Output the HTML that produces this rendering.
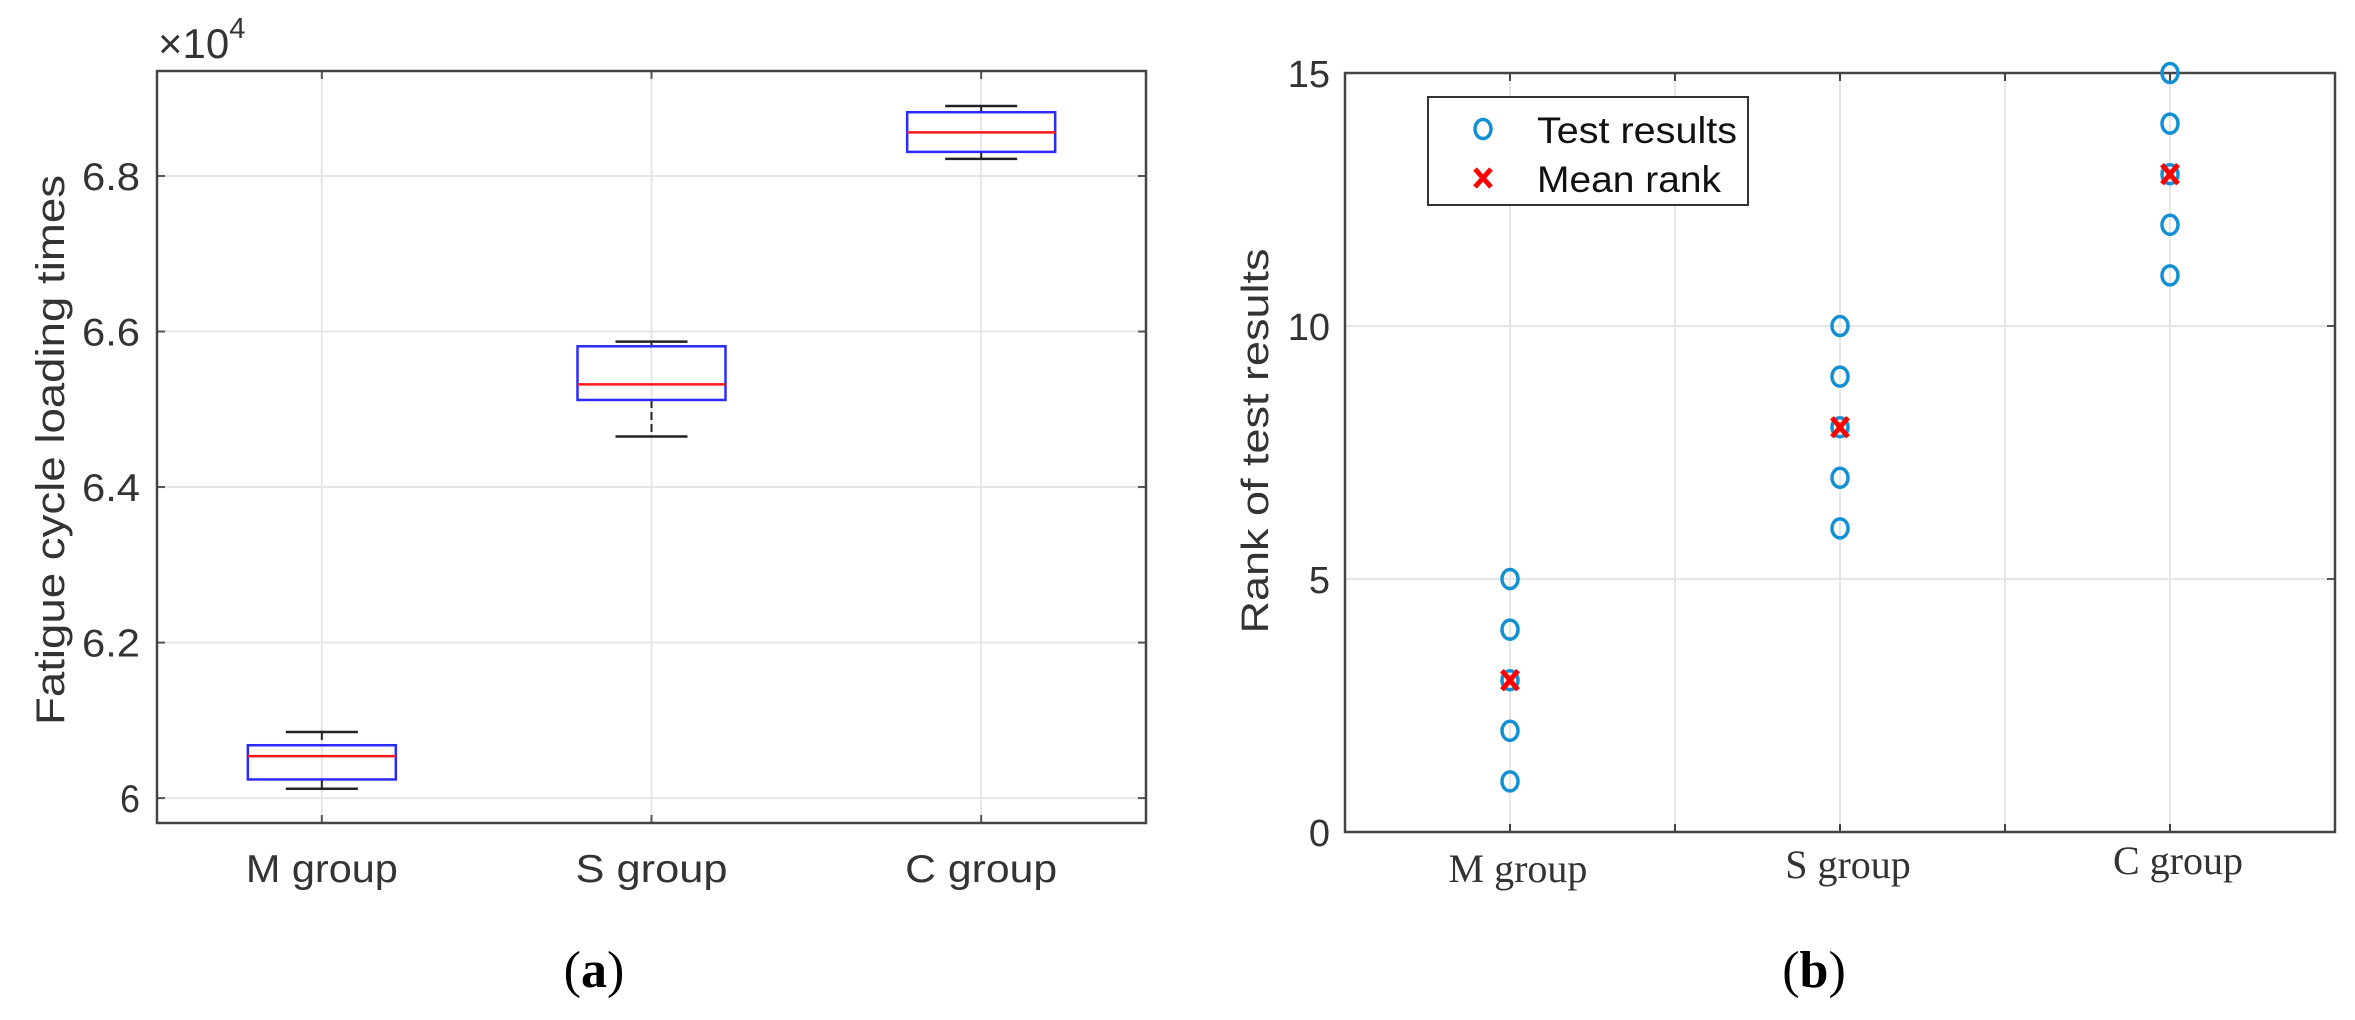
<!DOCTYPE html>
<html><head><meta charset="utf-8"><style>
html,body{margin:0;padding:0;background:#fff;}
svg{display:block;}
.sans{font-family:"Liberation Sans",Arial,sans-serif;}
.serif{font-family:"Liberation Serif","Times New Roman",serif;}
</style></head><body>
<svg id="fig" width="2355" height="1020" viewBox="0 0 2355 1020" xmlns="http://www.w3.org/2000/svg">
<g id="panelA"></g>
<g id="panelB"></g>
</svg>
<script>
// Panel (a) data (values x10^4)
const boxCategories = ["M group", "S group", "C group"];
const whiskerLow = [6.012, 6.465, 6.822];
const boxQ1 = [6.024, 6.512, 6.831];
const boxMedian = [6.054, 6.532, 6.856];
const boxQ3 = [6.068, 6.581, 6.882];
const whiskerHigh = [6.085, 6.587, 6.890];
const boxYTicks = [6, 6.2, 6.4, 6.6, 6.8];
const boxYTickLabels = ["6", "6.2", "6.4", "6.6", "6.8"];

// Panel (b) data
const rankCategories = ["M group", "S group", "C group"];
const rankResults = [[1, 2, 3, 4, 5], [6, 7, 8, 9, 10], [11, 12, 13, 14, 15]];
const rankMeans = [3, 8, 13];
const rankYTicks = [0, 5, 10, 15];
const rankYTickLabels = ["0", "5", "10", "15"];

const NS = "http://www.w3.org/2000/svg";
function mk(parent, tag, attrs, text) {
  const e = document.createElementNS(NS, tag);
  for (const k in attrs) e.setAttribute(k, attrs[k]);
  if (text !== undefined) e.textContent = text;
  parent.appendChild(e);
  return e;
}

// ---------- Panel A ----------
(function () {
  const g = document.getElementById("panelA");
  const L = 157, R = 1146, T = 71, B = 823;
  const yMin = 5.968, yMax = 6.935;
  const xs = v => L + (v - 0.5) / 3 * (R - L);
  const ys = v => B - (v - yMin) / (yMax - yMin) * (B - T);
  boxYTicks.forEach((t, i) => {
    const gl = mk(g, "line", {x1: L, x2: R, y1: ys(t), y2: ys(t), stroke: "#e6e6e6", "stroke-width": 2});
    
    
    mk(g, "line", {x1: L, x2: L + 8, y1: ys(t), y2: ys(t), stroke: "#555", "stroke-width": 2});
    mk(g, "line", {x1: R - 8, x2: R, y1: ys(t), y2: ys(t), stroke: "#555", "stroke-width": 2});
    const tl = mk(g, "text", {x: 140, y: ys(t) + 14, "text-anchor": "end", "font-size": 39, fill: "#333", class: "sans", textLength: boxYTickLabels[i].length > 1 ? 58 : 20, lengthAdjust: "spacingAndGlyphs"}, boxYTickLabels[i]);
    
    
  });
  boxCategories.forEach((c, i) => {
    const x = xs(i + 1);
    mk(g, "line", {x1: x, x2: x, y1: T, y2: B, stroke: "#e6e6e6", "stroke-width": 2});
    mk(g, "line", {x1: x, x2: x, y1: B - 8, y2: B, stroke: "#555", "stroke-width": 2});
    mk(g, "line", {x1: x, x2: x, y1: T, y2: T + 8, stroke: "#555", "stroke-width": 2});
    const xl = mk(g, "text", {x: x, y: 882, "text-anchor": "middle", "font-size": 39, fill: "#333", class: "sans", textLength: 152, lengthAdjust: "spacingAndGlyphs"}, c);
    
    
  });
  const fr = mk(g, "rect", {x: L, y: T, width: R - L, height: B - T, fill: "none", stroke: "#444", "stroke-width": 2.5});
  
  
  boxCategories.forEach((c, i) => {
    const x = xs(i + 1), hw = 74, cw = 36;
    const bg = mk(g, "g", {});
    
    
    mk(bg, "line", {x1: x, x2: x, y1: ys(whiskerHigh[i]), y2: ys(boxQ3[i]), stroke: "#222", "stroke-width": 2, "stroke-dasharray": "8,4"});
    mk(bg, "line", {x1: x, x2: x, y1: ys(boxQ1[i]), y2: ys(whiskerLow[i]), stroke: "#222", "stroke-width": 2, "stroke-dasharray": "8,4"});
    mk(bg, "line", {x1: x - cw, x2: x + cw, y1: ys(whiskerHigh[i]), y2: ys(whiskerHigh[i]), stroke: "#222", "stroke-width": 2.5});
    mk(bg, "line", {x1: x - cw, x2: x + cw, y1: ys(whiskerLow[i]), y2: ys(whiskerLow[i]), stroke: "#222", "stroke-width": 2.5});
    mk(bg, "rect", {x: x - hw, y: ys(boxQ3[i]), width: 2 * hw, height: ys(boxQ1[i]) - ys(boxQ3[i]), fill: "none", stroke: "#2b2bff", "stroke-width": 2.5});
    mk(bg, "line", {x1: x - hw, x2: x + hw, y1: ys(boxMedian[i]), y2: ys(boxMedian[i]), stroke: "#ff1a1a", "stroke-width": 2.5});
  });
  const ex = mk(g, "text", {x: 158, y: 58, "font-size": 42, fill: "#333", class: "sans"});
  
  
  ex.innerHTML = '×10<tspan dy="-20" font-size="29">4</tspan>';
  const yt = mk(g, "text", {x: 0, y: 0, transform: "translate(64,450) rotate(-90)", "text-anchor": "middle", "font-size": 40, fill: "#333", class: "sans", textLength: 550, lengthAdjust: "spacingAndGlyphs"}, "Fatigue cycle loading times");
  
  
  const cap = mk(g, "text", {x: 594, y: 987, "text-anchor": "middle", "font-size": 52, fill: "#000", class: "serif"});
  
  
  cap.innerHTML = '(<tspan font-weight="bold">a</tspan>)';
})();

// ---------- Panel B ----------
(function () {
  const g = document.getElementById("panelB");
  const L = 1345, R = 2335, T = 73, B = 832;
  const yMin = 0, yMax = 15;
  const xs = v => L + (v - 0.5) / 3 * (R - L);
  const ys = v => B - (v - yMin) / (yMax - yMin) * (B - T);
  rankYTicks.forEach((t, i) => {
    mk(g, "line", {x1: L, x2: R, y1: ys(t), y2: ys(t), stroke: "#e6e6e6", "stroke-width": 2});
    mk(g, "line", {x1: R - 8, x2: R, y1: ys(t), y2: ys(t), stroke: "#555", "stroke-width": 2});
    const tl = mk(g, "text", {x: 1330, y: ys(t) + 14, "text-anchor": "end", "font-size": 38, fill: "#333", class: "sans"}, rankYTickLabels[i]);
    
    
  });
  for (let k = 0; k < 5; k++) {
    const x = xs(1 + k * 0.5);
    mk(g, "line", {x1: x, x2: x, y1: T, y2: B, stroke: "#e6e6e6", "stroke-width": 2});
    mk(g, "line", {x1: x, x2: x, y1: B - 8, y2: B, stroke: "#444", "stroke-width": 2});
    mk(g, "line", {x1: x, x2: x, y1: T, y2: T + 8, stroke: "#444", "stroke-width": 2});
  }
  rankCategories.forEach((c, i) => {
    const xl = mk(g, "text", {x: xs(i + 1) + 8, y: 882 - i * 4, "text-anchor": "middle", "font-size": 40, fill: "#333", class: "serif"}, c);
    
    
  });
  const fr = mk(g, "rect", {x: L, y: T, width: R - L, height: B - T, fill: "none", stroke: "#444", "stroke-width": 2.5});
  
  
  rankResults.forEach((arr, i) => {
    arr.forEach(v => {
      const c = mk(g, "ellipse", {cx: xs(i + 1), cy: ys(v), rx: 8, ry: 9.5, fill: "none", stroke: "#1390d2", "stroke-width": 3.5});
      
      
    });
  });
  rankMeans.forEach((v, i) => {
    const x = xs(i + 1), y = ys(v), s = 8;
    const m = mk(g, "path", {d: `M${x - s},${y - s * 1.2}L${x + s},${y + s * 1.2}M${x - s},${y + s * 1.2}L${x + s},${y - s * 1.2}`, stroke: "#ff0000", "stroke-width": 5, fill: "none"});
    
    
  });
  const lg = mk(g, "g", {});
  
  
  mk(lg, "rect", {x: 1428, y: 97, width: 320, height: 108, fill: "#fff", stroke: "#333", "stroke-width": 2});
  mk(lg, "ellipse", {cx: 1483, cy: 129, rx: 8, ry: 9.5, fill: "none", stroke: "#1390d2", "stroke-width": 3.5});
  mk(lg, "path", {d: "M1475,169L1491,187M1475,187L1491,169", stroke: "#ff0000", "stroke-width": 5});
  const l1 = mk(lg, "text", {x: 1537, y: 143, "font-size": 37, fill: "#111", class: "sans", textLength: 200, lengthAdjust: "spacingAndGlyphs"}, "Test results");
  
  
  const l2 = mk(lg, "text", {x: 1537, y: 192, "font-size": 37, fill: "#111", class: "sans", textLength: 184, lengthAdjust: "spacingAndGlyphs"}, "Mean rank");
  
  
  const yt = mk(g, "text", {x: 0, y: 0, transform: "translate(1268,441) rotate(-90)", "text-anchor": "middle", "font-size": 38, fill: "#333", class: "sans", textLength: 385, lengthAdjust: "spacingAndGlyphs"}, "Rank of test results");
  
  
  const cap = mk(g, "text", {x: 1814, y: 987, "text-anchor": "middle", "font-size": 52, fill: "#000", class: "serif"});
  
  
  cap.innerHTML = '(<tspan font-weight="bold">b</tspan>)';
})();
</script>
</body></html>
